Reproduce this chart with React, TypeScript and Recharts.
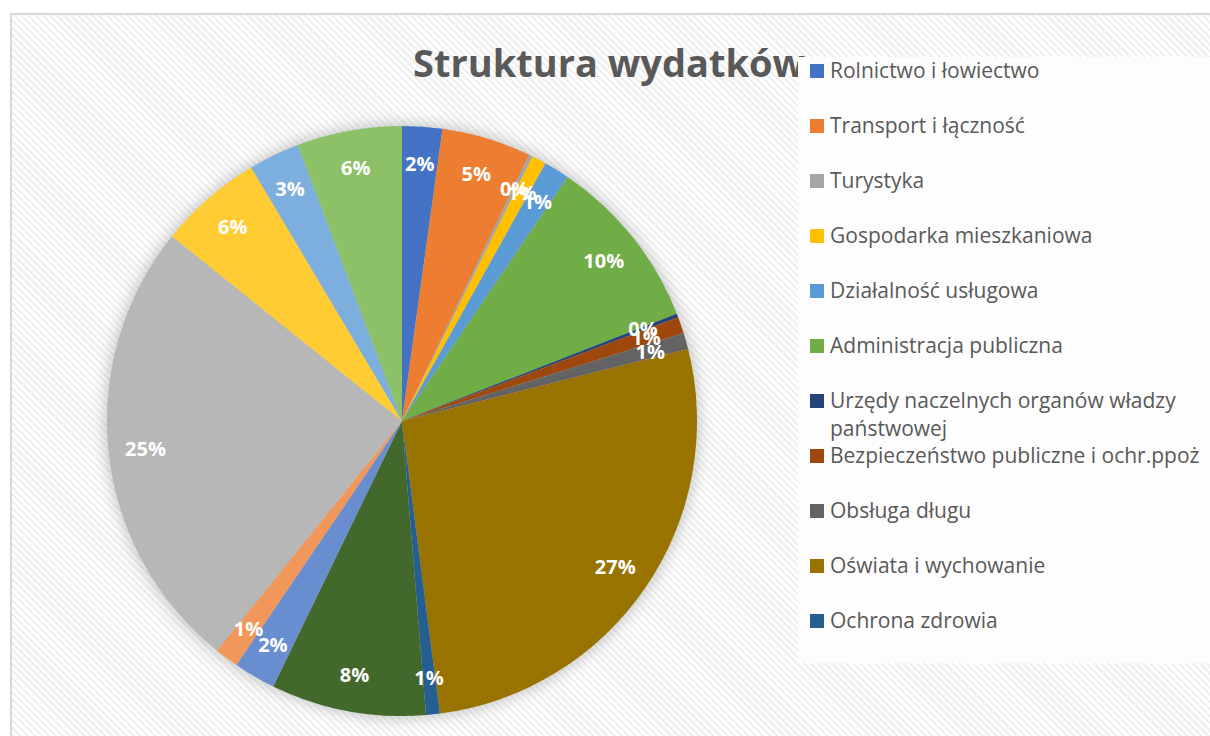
import { PieChart, Pie, Cell, Legend } from 'recharts'

// budget divisions, clockwise from 12 o'clock
const categories = [
  'Rolnictwo i łowiectwo',
  'Transport i łączność',
  'Turystyka',
  'Gospodarka mieszkaniowa',
  'Działalność usługowa',
  'Administracja publiczna',
  'Urzędy naczelnych organów władzy państwowej',
  'Bezpieczeństwo publiczne i ochr.ppoż',
  'Obsługa długu',
  'Oświata i wychowanie',
  'Ochrona zdrowia',
  'Pomoc społeczna',
  'Pozostałe zadania w zakresie polityki społecznej',
  'Edukacyjna opieka wychowawcza',
  'Rodzina',
  'Gospodarka komunalna i ochrona środowiska',
  'Kultura i ochrona dziedzictwa narodowego',
  'Kultura fizyczna',
]

// share of spending, %
const shares = [2.2, 4.9, 0.2, 0.8, 1.4, 9.6, 0.2, 0.9, 0.9, 26.9, 0.75, 8.5, 2.3, 1.3, 25.0, 5.7, 2.8, 5.75]

const colors = [
  '#4472C4', '#ED7D31', '#A5A5A5', '#FFC000', '#5B9BD5', '#70AD47',
  '#264478', '#9E480E', '#636363', '#997300', '#255E91', '#43682B',
  '#698ED0', '#F1975A', '#B7B7B7', '#FFCD33', '#7CAFDD', '#8CC168',
]

// the legend box is clipped in the original, only these entries show
const legendVisible = 11

const data = categories.map((name, i) => ({ name, value: shares[i] }))

const RAD = Math.PI / 180
const FONT = '"Open Sans", "Noto Sans", sans-serif'

function renderLabel(props: any) {
  const { cx, cy, midAngle, percent } = props
  const r = 258
  const x = cx + r * Math.cos(-midAngle * RAD)
  const y = cy + r * Math.sin(-midAngle * RAD)
  return (
    <text
      x={x}
      y={y}
      fill="#fff"
      textAnchor="middle"
      dominantBaseline="central"
      style={{ fontFamily: FONT, fontSize: 20, fontWeight: 700 }}
    >
      {`${Math.round(percent * 100)}%`}
    </text>
  )
}

function LegendBox() {
  return (
    <div style={{ fontFamily: FONT, fontSize: 21, color: '#595959' }}>
      {categories.slice(0, legendVisible).map((name, i) => (
        <div key={name} style={{ position: 'relative', height: 55 }}>
          <div
            style={{
              position: 'absolute',
              left: 12,
              top: 7,
              width: 14,
              height: 14,
              background: colors[i],
            }}
          />
          <div
            style={{
              position: 'absolute',
              left: 32,
              top: -1,
              width: 378,
              lineHeight: '28px',
              whiteSpace: 'normal',
            }}
          >
            {name}
          </div>
        </div>
      ))}
    </div>
  )
}

export default function App() {
  return (
    <div
      style={{
        position: 'absolute',
        left: 0,
        top: 0,
        width: 1210,
        height: 736,
        overflow: 'hidden',
        background: '#fff',
      }}
    >
      <svg width={0} height={0} style={{ position: 'absolute' }}>
        <defs>
          <filter id="pieShadow" x="-20%" y="-20%" width="140%" height="140%">
            <feGaussianBlur stdDeviation="7" />
          </filter>
        </defs>
      </svg>
      <div
        style={{
          position: 'absolute',
          left: 10,
          top: 13,
          width: 1240,
          height: 760,
          borderLeft: '2px solid #d9d9d9',
          borderTop: '2px solid #d9d9d9',
          background:
            'repeating-linear-gradient(45deg, #ffffff 0px, #ffffff 2.5px, #f1f1f1 2.5px, #f1f1f1 5px)',
        }}
      />
      <div
        style={{
          position: 'absolute',
          left: 413,
          top: 36,
          fontFamily: FONT,
          fontSize: 38,
          fontWeight: 700,
          color: '#595959',
          whiteSpace: 'nowrap',
          lineHeight: '52px',
        }}
      >
        Struktura wydatków
      </div>
      <div style={{ position: 'absolute', left: 0, top: 0 }}>
        <PieChart width={1210} height={736} margin={{ top: 0, right: 0, bottom: 0, left: 0 }}>
          <Pie
            data={[{ name: 'shadow', value: 1 }]}
            dataKey="value"
            cx={402}
            cy={421}
            outerRadius={298}
            startAngle={90}
            endAngle={-270}
            stroke="none"
            legendType="none"
            isAnimationActive={false}
          >
            <Cell fill="#8c8c8c" fillOpacity={0.45} filter="url(#pieShadow)" />
          </Pie>
          <Pie
            data={data}
            dataKey="value"
            nameKey="name"
            cx={402}
            cy={421}
            outerRadius={295}
            startAngle={90}
            endAngle={-270}
            stroke="none"
            label={renderLabel}
            labelLine={false}
            isAnimationActive={false}
          >
            {data.map((d, i) => (
              <Cell key={d.name} fill={colors[i]} />
            ))}
          </Pie>
          <Legend
            layout="vertical"
            align="right"
            verticalAlign="top"
            content={() => <LegendBox />}
            wrapperStyle={{
              position: 'absolute',
              left: 798,
              top: 57,
              width: 412,
              height: 606,
              background: '#fdfdfd',
              paddingTop: 0,
            }}
          />
        </PieChart>
      </div>
    </div>
  )
}
